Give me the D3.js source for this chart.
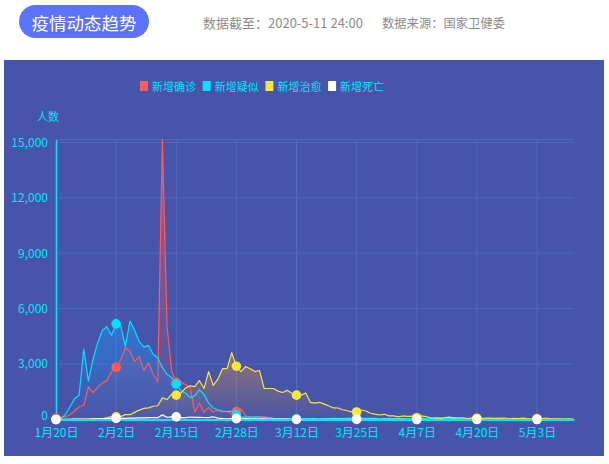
<!DOCTYPE html>
<html>
<head>
<meta charset="utf-8">
<script src="https://cdn.jsdelivr.net/npm/d3@7"></script>
<style>
  html, body { margin: 0; padding: 0; background: #fff; }
  svg { display: block; font-family: "Noto Sans CJK SC", "Noto Sans", sans-serif; }
</style>
</head>
<body>
<svg id="chart"></svg>
<script>
// 每日数据 1月20日 - 5月11日
const seriesNames = ["新增确诊", "新增疑似", "新增治愈", "新增死亡"]
const seriesColors = ["#ff5b5b", "#00e2ff", "#f6e63f", "#ffffff"]
const areaColors = ["#ff5a5a", "#1e96fa", "#dc9146", "#ffffff"]

const newConfirmed = [
  77, 149, 131, 259, 444, 688, 769, 1771, 1459, 1737, 1982, 2102,
  2590, 2829, 3235, 3887, 3694, 3143, 3399, 2656, 3062, 2478, 2015, 15152, 5090, 2641, 2009, 2048, 1886, 1749, 394, 889, 397, 648, 409, 508, 406, 433, 327, 427, 573,
  202, 125, 119, 139, 143, 99, 44, 40, 19, 24, 15, 8, 11, 20, 16, 21, 13, 34, 39, 41, 46, 39, 78, 47, 67, 55, 54, 45, 31, 48, 36,
  35, 31, 19, 30, 39, 32, 62, 63, 42, 46, 99, 108, 89, 46, 26, 27, 27, 16, 12, 11, 30, 10, 10, 12, 11, 3, 6, 22, 4, 12,
  12, 2, 3, 1, 2, 2, 4, 1, 14, 17, 1
]
const newSuspected = [
  0, 27, 257, 680, 1118, 1309, 3806, 2077, 3248, 4148, 4812, 5019,
  4562, 5173, 5072, 3971, 5328, 4833, 4214, 3916, 4008, 3536, 3342, 2807, 2450, 2277, 1918, 1563, 1432, 1185, 1277, 1614, 1361, 882, 620, 530, 452, 439, 452, 248, 132,
  141, 129, 143, 143, 102, 99, 60, 36, 31, 33, 33, 33, 17, 39, 45, 45, 21, 45, 42, 57, 49, 47, 54, 74, 76, 63, 60, 59, 56, 37, 53,
  42, 40, 38, 36, 42, 40, 44, 59, 45, 52, 48, 60, 62, 56, 42, 45, 40, 37, 28, 33, 41, 27, 33, 26, 24, 14, 21, 14, 30, 12,
  9, 13, 14, 11, 10, 9, 7, 10, 6, 8, 5
]
const newCured = [
  0, 0, 0, 6, 3, 11, 2, 9, 43, 21, 47, 85,
  157, 147, 157, 262, 261, 387, 510, 600, 632, 716, 744, 1171, 1081, 1373, 1323, 1425, 1701, 1824, 1779, 2109, 1680, 2589, 1846, 2182, 2750, 2749, 3622, 2885, 2589,
  2867, 2742, 2592, 2652, 1681, 1678, 1677, 1535, 1460, 1578, 1418, 1318, 1318, 1430, 930, 889, 930, 829, 731, 625, 623, 527, 474, 413, 406, 514, 460, 337, 287, 243, 282,
  195, 193, 142, 191, 171, 184, 98, 193, 152, 93, 80, 59, 94, 124, 85, 89, 90, 55, 84, 68, 51, 71, 79, 56, 79, 77, 41, 59, 48, 78,
  39, 37, 48, 51, 80, 39, 32, 29, 19, 38, 3
]
const newDeaths = [
  0, 3, 8, 8, 16, 15, 24, 26, 26, 38, 43, 46,
  45, 57, 64, 65, 73, 73, 86, 89, 97, 108, 97, 254, 121, 143, 142, 105, 98, 136, 114, 118, 109, 97, 150, 71, 52, 29, 44, 47, 35,
  42, 31, 38, 31, 30, 28, 27, 22, 17, 22, 11, 7, 13, 10, 14, 13, 11, 8, 3, 7, 6, 9, 7, 4, 6, 5, 3, 5, 4, 1, 7,
  6, 4, 4, 3, 1, 2, 0, 2, 1, 1, 3, 0, 0, 0, 2, 0, 0, 0, 0, 0, 0, 0, 0, 0, 0, 0, 0, 0, 0, 0,
  0, 0, 0, 0, 0, 0, 0, 0, 0, 0, 0
]
const yTicks = [0, 3000, 6000, 9000, 12000, 15000]

const allSeries = [newConfirmed, newSuspected, newCured, newDeaths]
const days = d3.utcDay.range(new Date(Date.UTC(2020, 0, 20)), new Date(Date.UTC(2020, 4, 12)))
const tickDays = days.filter((d, i) => i % 13 === 0)

const width = 609
const height = 464
const plot = { left: 56, right: 574, top: 139.5, bottom: 419.5 }
const cyan = "#00e5ff"

const svg = d3.select("#chart")
    .attr("width", width)
    .attr("height", height)

// kop
svg.append("rect")
    .attr("x", 19).attr("y", 5)
    .attr("width", 130).attr("height", 33)
    .attr("rx", 16.5)
    .attr("fill", "#5c72f8")
svg.append("text")
    .attr("x", 84).attr("y", 22)
    .attr("text-anchor", "middle")
    .attr("dominant-baseline", "central")
    .attr("font-size", 17.5)
    .attr("fill", "#fff")
    .text("疫情动态趋势")
svg.append("text")
    .attr("x", 203).attr("y", 27.5)
    .attr("font-size", 13)
    .attr("fill", "#8c8c8c")
    .text("数据截至：2020-5-11 24:00")
svg.append("text")
    .attr("x", 382).attr("y", 27.5)
    .attr("font-size", 12.3)
    .attr("fill", "#8c8c8c")
    .text("数据来源：国家卫健委")

// paneel
svg.append("rect")
    .attr("x", 4).attr("y", 60)
    .attr("width", 600).attr("height", 396)
    .attr("fill", "#4654a9")

const x = d3.scaleUtc()
    .domain([days[0], days[days.length - 1]])
    .range([plot.left, plot.right])
const y = d3.scaleLinear()
    .domain([0, d3.max(newConfirmed)])
    .range([plot.bottom, plot.top])

// grid
const grid = svg.append("g").attr("stroke", "#5369bb").attr("stroke-width", 1)
grid.selectAll(".hgrid")
    .data(yTicks.concat([y.domain()[1]]))
    .enter().append("line")
    .attr("x1", plot.left).attr("x2", plot.right)
    .attr("y1", d => y(d)).attr("y2", d => y(d))
grid.selectAll(".vgrid")
    .data(tickDays.slice(1))
    .enter().append("line")
    .attr("x1", d => x(d)).attr("x2", d => x(d))
    .attr("y1", plot.top).attr("y2", plot.bottom)

// gradients
const defs = svg.append("defs")
areaColors.forEach((c, i) => {
    const g = defs.append("linearGradient")
        .attr("id", "grad" + i)
        .attr("x1", 0).attr("y1", 0).attr("x2", 0).attr("y2", 1)
    g.append("stop").attr("offset", "0%").attr("stop-color", c).attr("stop-opacity", i === 3 ? 0.3 : 0.5)
    g.append("stop").attr("offset", "100%").attr("stop-color", c).attr("stop-opacity", 0.02)
})

const area = d3.area()
    .x((d, i) => x(days[i]))
    .y0(y(0))
    .y1(d => y(d))
const line = d3.line()
    .x((d, i) => x(days[i]))
    .y(d => y(d))

svg.append("g").selectAll("path")
    .data(allSeries)
    .enter().append("path")
    .attr("d", d => area(d))
    .attr("fill", (d, i) => "url(#grad" + i + ")")

svg.append("g").selectAll("path")
    .data(allSeries)
    .enter().append("path")
    .attr("d", d => line(d))
    .attr("fill", "none")
    .attr("stroke", (d, i) => seriesColors[i])
    .attr("stroke-width", 1.2)
    .attr("stroke-linejoin", "round")

// assen
const yAxis = svg.append("g")
    .attr("transform", `translate(${plot.left},0)`)
    .call(d3.axisLeft(y).tickValues(yTicks).tickFormat(d3.format(",")).tickSize(0).tickPadding(8))
yAxis.select(".domain").attr("stroke", cyan).attr("stroke-width", 1.5)
yAxis.selectAll("text").attr("fill", cyan).attr("font-size", 12).attr("font-family", "Noto Sans CJK SC")
yAxis.selectAll(".tick").filter(d => d === 0).select("text").attr("dy", "0em")

const xAxis = svg.append("g")
    .attr("transform", `translate(0,${plot.bottom})`)
    .call(d3.axisBottom(x).tickValues(tickDays).tickFormat(d3.utcFormat("%-m月%-d日")).tickSize(0).tickPadding(9))
xAxis.select(".domain").attr("stroke", cyan).attr("stroke-width", 2)
xAxis.selectAll("text").attr("fill", cyan).attr("font-size", 12).attr("font-family", "Noto Sans CJK SC")

svg.append("text")
    .attr("x", 48).attr("y", 121)
    .attr("text-anchor", "middle")
    .attr("font-size", 11)
    .attr("fill", cyan)
    .text("人数")

// symbolen op elke 13e dag
allSeries.forEach((serie, s) => {
    svg.append("g").selectAll("circle")
        .data(serie.map((v, i) => ({ v, i })).filter(d => d.i % 13 === 0))
        .enter().append("circle")
        .attr("cx", d => x(days[d.i]))
        .attr("cy", d => y(d.v))
        .attr("r", 4.8)
        .attr("fill", seriesColors[s])
})

// legenda
const legend = svg.append("g").selectAll("g")
    .data(seriesNames)
    .enter().append("g")
    .attr("transform", (d, i) => `translate(${140 + i * 62.7},81)`)
legend.append("rect")
    .attr("width", 8).attr("height", 10)
    .attr("fill", (d, i) => seriesColors[i])
legend.append("text")
    .attr("x", 12).attr("y", 5)
    .attr("dominant-baseline", "central")
    .attr("font-size", 11)
    .attr("fill", cyan)
    .text(d => d)
</script>
</body>
</html>
